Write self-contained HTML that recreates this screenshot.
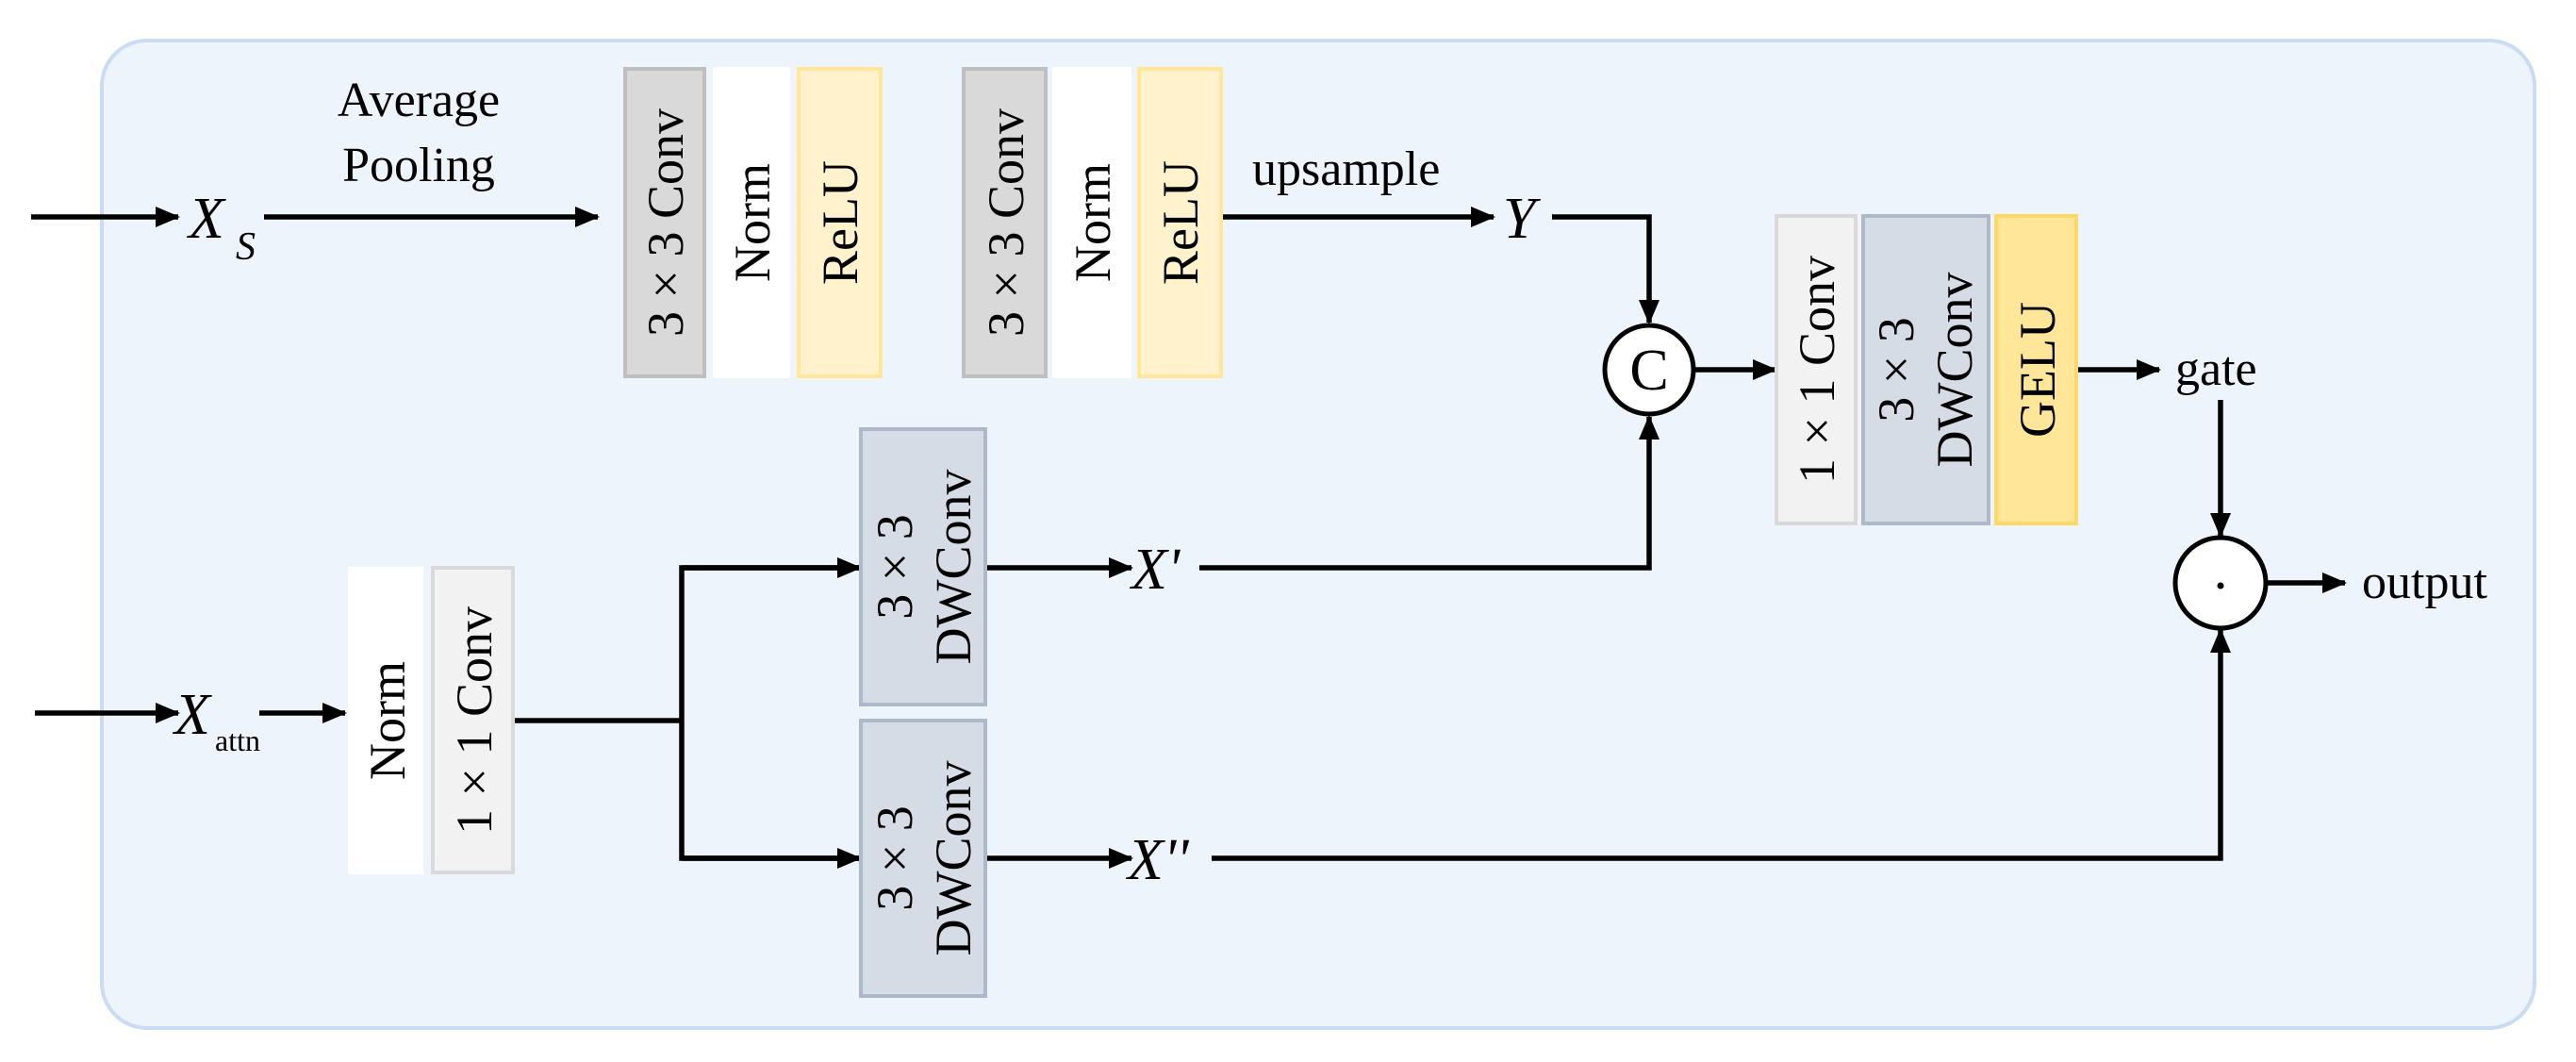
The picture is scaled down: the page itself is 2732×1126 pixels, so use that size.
<!DOCTYPE html>
<html><head><meta charset="utf-8"><style>
html,body{margin:0;padding:0;background:#fff;}
svg{display:block;}
svg, svg text{font-family:"Liberation Serif","DejaVu Serif","Times New Roman",serif !important;fill:#000;}
</style></head><body>
<svg width="2732" height="1126" viewBox="0 0 2732 1126" xmlns="http://www.w3.org/2000/svg" font-family="'Liberation Serif', 'DejaVu Serif', serif">
<defs>
<marker id="a" markerWidth="26" markerHeight="22" refX="24" refY="11" orient="auto" markerUnits="userSpaceOnUse">
<path d="M0,0 L26,11 L0,22 z" fill="#000"/>
</marker>
</defs>
<rect x="108" y="43" width="2580" height="1047" rx="48" fill="#eef4fc" stroke="#c9dcf3" stroke-width="4"/>

<g fill="none" stroke="#000" stroke-width="5.5">
<line x1="33" y1="230" x2="189" y2="230" marker-end="url(#a)"/>
<line x1="280" y1="230" x2="634" y2="230" marker-end="url(#a)"/>
<line x1="1295" y1="230" x2="1584" y2="230" marker-end="url(#a)"/>
<polyline points="1646,230 1749,230 1749,342" marker-end="url(#a)"/>
<polyline points="1272,602 1749,602 1749,442" marker-end="url(#a)"/>
<line x1="1797" y1="392" x2="1883" y2="392" marker-end="url(#a)"/>
<line x1="2203" y1="392" x2="2290" y2="392" marker-end="url(#a)"/>
<line x1="2355" y1="424" x2="2355" y2="568" marker-end="url(#a)"/>
<line x1="2404" y1="618" x2="2487" y2="618" marker-end="url(#a)"/>
<polyline points="1285,910 2355,910 2355,668" marker-end="url(#a)"/>
<line x1="37" y1="756" x2="189" y2="756" marker-end="url(#a)"/>
<line x1="275" y1="756" x2="366" y2="756" marker-end="url(#a)"/>
<polyline points="544,764 723,764"/>
<polyline points="912,602 723,602 723,910 912,910"/>
<line x1="723" y1="602" x2="912" y2="602" marker-end="url(#a)"/>
<line x1="723" y1="910" x2="912" y2="910" marker-end="url(#a)"/>
<line x1="1045" y1="602" x2="1200" y2="602" marker-end="url(#a)"/>
<line x1="1045" y1="910" x2="1200" y2="910" marker-end="url(#a)"/>
</g>

<g stroke-width="4">
<rect x="663" y="73" width="84" height="326" fill="#d9d9d9" stroke="#bfbfbf"/>
<rect x="758" y="73" width="78" height="326" fill="#ffffff" stroke="#ffffff"/>
<rect x="847" y="73" width="87" height="326" fill="#fff2cc" stroke="#ffe699"/>
<rect x="1022" y="73" width="87" height="326" fill="#d9d9d9" stroke="#bfbfbf"/>
<rect x="1118" y="73" width="80" height="326" fill="#ffffff" stroke="#ffffff"/>
<rect x="1208" y="73" width="87" height="326" fill="#fff2cc" stroke="#ffe699"/>
<rect x="1884" y="229" width="84" height="326" fill="#f2f2f2" stroke="#d9d9d9"/>
<rect x="1976" y="229" width="133" height="326" fill="#d6dce5" stroke="#adb9ca"/>
<rect x="2117" y="229" width="85" height="326" fill="#ffe699" stroke="#ffd966"/>
<rect x="371" y="603" width="76" height="322" fill="#ffffff" stroke="#ffffff"/>
<rect x="459" y="602" width="85" height="323" fill="#f2f2f2" stroke="#d9d9d9"/>
<rect x="913" y="455" width="132" height="292" fill="#d6dce5" stroke="#adb9ca"/>
<rect x="913" y="764" width="132" height="292" fill="#d6dce5" stroke="#adb9ca"/>
</g>

<circle cx="1749" cy="392" r="47" fill="#fff" stroke="#000" stroke-width="5"/>
<text x="1749" y="413" font-size="62" text-anchor="middle">C</text>
<circle cx="2355" cy="618" r="48" fill="#fff" stroke="#000" stroke-width="5"/>
<circle cx="2355" cy="621" r="3.5" fill="#000"/>

<g font-size="54" text-anchor="middle">
<text transform="translate(724,236) rotate(-90)">3 × 3 Conv</text>
<text transform="translate(816,236) rotate(-90)">Norm</text>
<text transform="translate(909,236) rotate(-90)">ReLU</text>
<text transform="translate(1085,236) rotate(-90)">3 × 3 Conv</text>
<text transform="translate(1177,236) rotate(-90)">Norm</text>
<text transform="translate(1270,236) rotate(-90)">ReLU</text>
<text transform="translate(1945,392) rotate(-90)">1 × 1 Conv</text>
<text transform="translate(2029,392) rotate(-90)">3 × 3</text>
<text transform="translate(2091,392) rotate(-90)">DWConv</text>
<text transform="translate(2179,392) rotate(-90)">GELU</text>
<text transform="translate(429,764) rotate(-90)">Norm</text>
<text transform="translate(521,764) rotate(-90)">1 × 1 Conv</text>
<text transform="translate(967,601) rotate(-90)">3 × 3</text>
<text transform="translate(1029,601) rotate(-90)">DWConv</text>
<text transform="translate(967,910) rotate(-90)">3 × 3</text>
<text transform="translate(1029,910) rotate(-90)">DWConv</text>
</g>

<g font-size="52">
<text x="444" y="123" text-anchor="middle">Average</text>
<text x="444" y="192" text-anchor="middle">Pooling</text>
<text x="1328" y="196">upsample</text>
<text x="2307" y="408">gate</text>
<text x="2505" y="634">output</text>
</g>
<g font-style="italic" font-size="62">
<text x="200" y="252">X</text>
<text x="250" y="275" font-size="42">S</text>
<text x="1594" y="252">Y</text>
<text x="185" y="778">X</text>
<text x="1200" y="624">X'</text>
<text x="1196" y="932">X''</text>
</g>
<text x="228" y="796" font-size="32">attn</text>
</svg>
</body></html>
